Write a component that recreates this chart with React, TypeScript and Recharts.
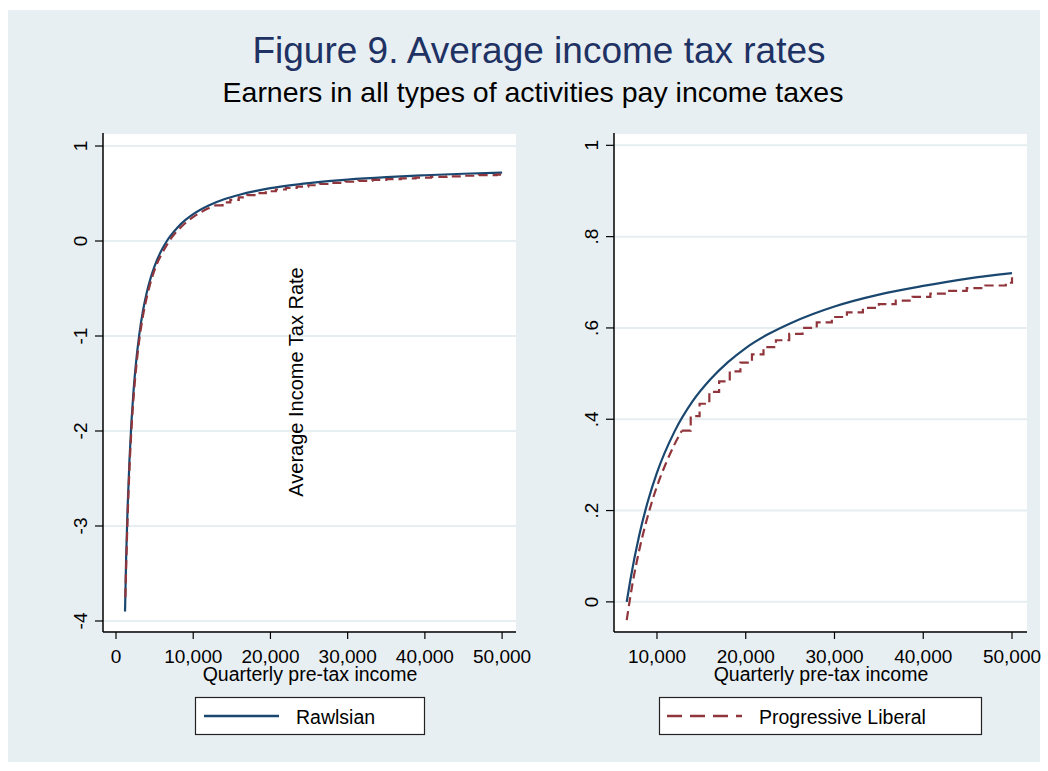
import React from 'react';
import { LineChart, Line, XAxis, YAxis, CartesianGrid } from 'recharts';

/* ── Data ─────────────────────────────────────────────────── */
// Rawlsian: smooth average tax rate by quarterly pre-tax income
const income = [
  1170, 1300, 1500, 1750, 2000, 2250, 2500, 3000, 3500, 4000, 4500, 5000, 6000, 6590, 7000, 8000,
  9000, 10000, 12000, 14000, 16000, 18000, 20000, 22500, 25000, 27500, 30000, 35000, 40000, 45000,
  50000,
];
const rawlsian = [
  -3.9, -3.375, -2.814, -2.294, -1.904, -1.6, -1.357, -0.993, -0.732, -0.537, -0.385, -0.264,
  -0.082, 0, 0.048, 0.146, 0.222, 0.283, 0.374, 0.439, 0.487, 0.525, 0.556, 0.586, 0.61, 0.63,
  0.647, 0.673, 0.692, 0.708, 0.72,
];

// Progressive Liberal: stair-stepped rate (value holds from each income point onward)
const liberalIncome = [
  1210, 1350, 1500, 1700, 1900, 2150, 2400, 2700, 3000, 3400, 3800, 4300, 4800, 5300, 5900, 6590,
  7300, 8000, 8700, 9400, 10200, 11000, 11900, 12800, 13800, 14800, 15900, 17000, 18200, 19400,
  20700, 22000, 23400, 24900, 26400, 28000, 29700, 31400, 33200, 35000, 36900, 38800, 40800, 42800,
  44900, 47000, 49300, 50000,
];
const liberal = [
  -3.75, -3.33, -2.92, -2.48, -2.13, -1.79, -1.52, -1.26, -1.05, -0.83, -0.66, -0.49, -0.35, -0.24,
  -0.14, -0.04, 0.046, 0.113, 0.169, 0.217, 0.264, 0.303, 0.342, 0.375, 0.407, 0.434, 0.46, 0.483,
  0.505, 0.524, 0.542, 0.558, 0.573, 0.587, 0.6, 0.612, 0.624, 0.634, 0.644, 0.652, 0.66, 0.668,
  0.675, 0.681, 0.687, 0.693, 0.699, 0.711,
];

const xTicksLeft = [0, 10000, 20000, 30000, 40000, 50000];
const xTicksRight = [10000, 20000, 30000, 40000, 50000];
const yTicksLeft = [-4, -3, -2, -1, 0, 1];
const yTicksRight = [0, 0.2, 0.4, 0.6, 0.8, 1];

const RIGHT_FROM = 6590; // right panel keeps only incomes with a non-negative Rawlsian rate
const STEP_FROM = 12800; // below this the stairs are too fine to show, draw as a curve

/* ── Tokens ───────────────────────────────────────────────── */
const FONT = "'Liberation Sans', Arial, Helvetica, sans-serif";
const COLORS = {
  page: '#ffffff',
  region: '#e8eff2',
  grid: '#e6eef1',
  navy: '#1a476f',
  maroon: '#90353b',
  title: '#1f3264',
  text: '#000000',
};

const rawlsData = income.map((x, i) => ({ x, y: rawlsian[i] }));
const libData = liberalIncome.map((x, i) => ({ x, y: liberal[i] }));

const fmtX = (v: number) => v.toLocaleString('en-US');
const fmtYLeft = (v: number) => String(v);
const fmtYRight = (v: number) => (v === 0 || v === 1 ? String(v) : String(v).replace(/^0\./, '.'));

const XTick = (props: any) => {
  const { x, y, payload } = props;
  return (
    <text x={x} y={y + 14} textAnchor="middle" fontSize={19} fontFamily={FONT} fill={COLORS.text}>
      {fmtX(payload.value)}
    </text>
  );
};

const makeYTick = (fmt: (v: number) => string) => (props: any) => {
  const { x, y, payload } = props;
  return (
    <text
      x={x}
      y={y}
      textAnchor="middle"
      transform={`rotate(-90 ${x} ${y})`}
      fontSize={19}
      fontFamily={FONT}
      fill={COLORS.text}
    >
      {fmt(payload.value)}
    </text>
  );
};

interface PanelProps {
  left: number;
  xDomain: [number, number];
  yDomain: [number, number];
  xTicks: number[];
  yTicks: number[];
  yFmt: (v: number) => string;
  minIncome: number;
}

const Panel: React.FC<PanelProps> = ({ left, xDomain, yDomain, xTicks, yTicks, yFmt, minIncome }) => {
  const rawls = rawlsData.filter((d) => d.x >= minIncome);
  const lib = libData.filter((d) => d.x >= minIncome);
  const libSmooth = lib.filter((d) => d.x <= STEP_FROM);
  const libSteps = lib.filter((d) => d.x >= STEP_FROM);
  const dash = { stroke: COLORS.maroon, strokeWidth: 2.2, strokeDasharray: '9 5' };

  return (
    <div style={{ position: 'absolute', left, top: 133 }}>
      {/* extra right margin so the last tick label is not cut */}
      <LineChart width={506} height={559} margin={{ top: 0, right: 30, bottom: 0, left: 0 }}>
        <CartesianGrid fill="#ffffff" stroke={COLORS.grid} strokeWidth={2} vertical={false} />
        <XAxis
          type="number"
          dataKey="x"
          domain={xDomain}
          ticks={xTicks}
          interval={0}
          allowDataOverflow
          height={60}
          tickSize={7}
          tickMargin={10}
          axisLine={{ stroke: '#000', strokeWidth: 1.5 }}
          tickLine={{ stroke: '#000', strokeWidth: 1.2 }}
          tick={XTick}
        />
        <YAxis
          type="number"
          domain={yDomain}
          ticks={yTicks}
          interval={0}
          allowDataOverflow
          width={63}
          tickSize={8}
          tickMargin={8}
          axisLine={{ stroke: '#000', strokeWidth: 1.5 }}
          tickLine={{ stroke: '#000', strokeWidth: 1.2 }}
          tick={makeYTick(yFmt)}
        />
        <Line
          data={rawls}
          dataKey="y"
          type="monotone"
          stroke={COLORS.navy}
          strokeWidth={2.2}
          dot={false}
          isAnimationActive={false}
        />
        <Line data={libSmooth} dataKey="y" type="monotone" {...dash} dot={false} isAnimationActive={false} />
        <Line data={libSteps} dataKey="y" type="stepAfter" {...dash} dot={false} isAnimationActive={false} />
      </LineChart>
    </div>
  );
};

export default function App() {
  return (
    <div
      style={{
        position: 'absolute',
        left: 0,
        top: 0,
        width: 1048,
        height: 771,
        background: COLORS.page,
        fontFamily: FONT,
        overflow: 'hidden',
      }}
    >
      <div style={{ position: 'absolute', left: 8, top: 10, width: 1032, height: 752, background: COLORS.region }} />

      <Panel
        left={40}
        xDomain={[-1684, 51800]}
        yDomain={[-4.116, 1.137]}
        xTicks={xTicksLeft}
        yTicks={yTicksLeft}
        yFmt={fmtYLeft}
        minIncome={0}
      />
      <Panel
        left={551}
        xDomain={[5158, 51689]}
        yDomain={[-0.066, 1.027]}
        xTicks={xTicksRight}
        yTicks={yTicksRight}
        yFmt={fmtYRight}
        minIncome={RIGHT_FROM}
      />

      <svg
        width={1048}
        height={771}
        style={{ position: 'absolute', left: 0, top: 0, pointerEvents: 'none' }}
        fontFamily={FONT}
      >
        <text x={539} y={63} textAnchor="middle" fontSize={37} fill={COLORS.title}>
          Figure 9. Average income tax rates
        </text>
        <text x={533} y={102} textAnchor="middle" fontSize={28.5} fill={COLORS.text}>
          Earners in all types of activities pay income taxes
        </text>

        {/* y title sits inside the left plot */}
        <text x={303} y={382} textAnchor="middle" fontSize={20} fill={COLORS.text} transform="rotate(-90 303 382)">
          Average Income Tax Rate
        </text>

        <text x={310} y={681} textAnchor="middle" fontSize={19.5} fill={COLORS.text}>
          Quarterly pre-tax income
        </text>
        <text x={821} y={681} textAnchor="middle" fontSize={19.5} fill={COLORS.text}>
          Quarterly pre-tax income
        </text>

        {/* legends */}
        <rect x={195.5} y={697.5} width={229} height={37} fill="#fff" stroke="#222" strokeWidth={1.2} />
        <line x1={204} y1={716} x2={279} y2={716} stroke={COLORS.navy} strokeWidth={2.4} />
        <text x={296} y={724} fontSize={19.5} fill={COLORS.text}>
          Rawlsian
        </text>

        <rect x={659.5} y={697.5} width={322} height={37} fill="#fff" stroke="#222" strokeWidth={1.2} />
        <line
          x1={667}
          y1={716}
          x2={742}
          y2={716}
          stroke={COLORS.maroon}
          strokeWidth={2.4}
          strokeDasharray="15 8"
        />
        <text x={759} y={724} fontSize={19.5} fill={COLORS.text}>
          Progressive Liberal
        </text>
      </svg>
    </div>
  );
}
